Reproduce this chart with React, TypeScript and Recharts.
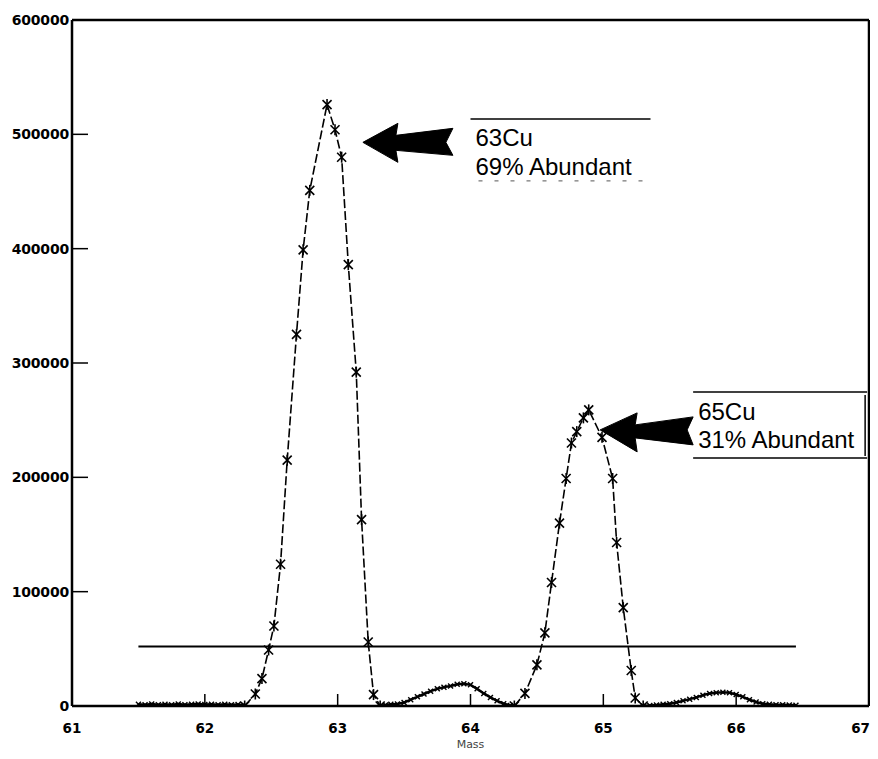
import React from 'react';
import { LineChart, Line, XAxis, YAxis, ReferenceLine, ReferenceDot } from 'recharts';

// ---- data ----
const xTicks = [61, 62, 63, 64, 65, 66, 67];
const yTicks = [0, 100000, 200000, 300000, 400000, 500000, 600000];

const peak63Mass = [62.3, 62.38, 62.43, 62.48, 62.52, 62.57, 62.62, 62.69, 62.74, 62.79, 62.92, 62.98, 63.03, 63.08, 63.14, 63.18, 63.23, 63.27, 63.32];
const peak63Intensity = [0, 10500, 24000, 49000, 70000, 124000, 215000, 325000, 399000, 451000, 526000, 504000, 480000, 386000, 292000, 163000, 56000, 10000, 0];

const peak65Mass = [64.33, 64.41, 64.5, 64.56, 64.61, 64.67, 64.72, 64.76, 64.8, 64.85, 64.89, 64.99, 65.07, 65.1, 65.15, 65.21, 65.24, 65.3];
const peak65Intensity = [0, 11000, 36000, 64000, 108000, 160000, 199000, 230000, 240000, 252000, 259000, 235000, 199000, 143000, 86000, 31000, 7000, 0];

const baseMass = [
  61.5, 61.55, 61.6, 61.65, 61.7, 61.75, 61.8, 61.85, 61.9, 61.95, 62.0, 62.05, 62.1, 62.15, 62.2, 62.25, 62.3,
  62.31,
  63.32, 63.36, 63.4, 63.45, 63.5, 63.55, 63.6, 63.65, 63.7, 63.75, 63.8, 63.85, 63.9, 63.95, 64.0, 64.05, 64.1, 64.15, 64.2, 64.25, 64.3, 64.33,
  64.34,
  65.3, 65.35, 65.4, 65.45, 65.5, 65.55, 65.6, 65.65, 65.7, 65.75, 65.8, 65.85, 65.9, 65.95, 66.0, 66.05, 66.1, 66.15, 66.2, 66.25, 66.3, 66.35, 66.4, 66.45,
];
const baseIntensity: (number | null)[] = [
  1500, 1000, 1800, 1200, 1500, 1000, 1700, 1200, 1500, 1800, 1300, 1600, 1200, 1500, 1000, 1300, 500,
  null,
  0, 800, 1500, 1800, 3000, 5500, 8000, 10500, 13000, 15000, 16500, 17500, 19000, 19500, 18500, 15000, 11000, 7500, 4500, 2000, 500, 0,
  null,
  0, 500, 800, 1500, 2000, 3000, 4500, 6000, 7500, 9500, 11000, 11500, 12000, 11500, 10000, 8000, 5500, 3500, 2000, 1500, 1200, 1000, 800, 600,
];

const thresholdIntensity = 52000;
const thresholdFrom = 61.5;
const thresholdTo = 66.45;

const label63 = ['63Cu', '69% Abundant'];
const label65 = ['65Cu', '31% Abundant'];
// annotation anchors (mass, intensity)
const arrow63Tip = [63.19, 493000];
const box63Anchor = [64.0, 513500];
const arrow65Tip = [64.976, 241500];
const box65Anchor = [65.676, 274700];

const xLabel = 'Mass';

const zip = (m: number[], v: (number | null)[]) => m.map((mass, i) => ({ mass, intensity: v[i] }));
const peak63 = zip(peak63Mass, peak63Intensity);
const peak65 = zip(peak65Mass, peak65Intensity);
const baseline = zip(baseMass, baseIntensity);

const TICK_FONT = 'DejaVu Sans, sans-serif';
const ANN_FONT = 'Liberation Sans, Arial, sans-serif';

const StarDot = (props: any) => {
  const { cx, cy, index } = props;
  if (cx == null || cy == null) return <g key={index} />;
  const s = 4.5;
  return (
    <g key={index} stroke="#000" strokeWidth={1.6}>
      <line x1={cx - s} y1={cy - s} x2={cx + s} y2={cy + s} />
      <line x1={cx - s} y1={cy + s} x2={cx + s} y2={cy - s} />
      <line x1={cx} y1={cy - s - 1} x2={cx} y2={cy + s + 1} />
    </g>
  );
};

const SmallX = (props: any) => {
  const { cx, cy, index, value } = props;
  if (cx == null || cy == null || value == null) return <g key={index} />;
  const s = 2.5;
  return (
    <g key={index} stroke="#000" strokeWidth={1.4}>
      <line x1={cx - s} y1={cy - s} x2={cx + s} y2={cy + s} />
      <line x1={cx - s} y1={cy + s} x2={cx + s} y2={cy - s} />
    </g>
  );
};

const XTick = (props: any) => {
  const { x, y, payload, index } = props;
  const axisY = y - 17;
  const last = index === xTicks.length - 1;
  return (
    <g>
      <line x1={x} y1={axisY} x2={x} y2={axisY - 12} stroke="#000" strokeWidth={1.5} />
      <text
        x={last ? x + 1 : x}
        y={y}
        dy="0.71em"
        textAnchor={last ? 'end' : 'middle'}
        fontSize={13.5}
        fontWeight="bold"
        fontFamily={TICK_FONT}
        fill="#000"
      >
        {payload.value}
      </text>
    </g>
  );
};

const YTick = (props: any) => {
  const { x, y, payload } = props;
  const axisX = x + 3;
  return (
    <g>
      <line x1={axisX} y1={y} x2={axisX + 16} y2={y} stroke="#000" strokeWidth={1.5} />
      <text x={x} y={y} dy="0.36em" textAnchor="end" fontSize={14} fontWeight="bold" fontFamily={TICK_FONT} fill="#000" letterSpacing={-0.2}>
        {payload.value}
      </text>
    </g>
  );
};

const Arrow = (geom: { headBack: number; headTop: number; headBot: number; shaftTopA: number; shaftBotA: number; tail: number; tailTop: number; tailBot: number; notch: number }) => (props: any) => {
  const { cx, cy } = props;
  const g = geom;
  const pts = [
    [0, 0],
    [g.headBack, g.headTop],
    [g.headBack - 2, g.shaftTopA],
    [g.tail, g.tailTop],
    [g.tail - g.notch, 0],
    [g.tail, g.tailBot],
    [g.headBack - 2, g.shaftBotA],
    [g.headBack, g.headBot],
  ]
    .map(([a, b]) => `${cx + a},${cy + b}`)
    .join(' ');
  return <polygon points={pts} fill="#000" stroke="#000" strokeWidth={1} />;
};

const Box63 = (props: any) => {
  const { cx, cy } = props;
  return (
    <g>
      <line x1={cx} y1={cy} x2={cx + 180} y2={cy} stroke="#000" strokeWidth={1.5} />
      <text x={cx + 5} y={cy + 27} fontSize={24} fontFamily={ANN_FONT} fill="#000">{label63[0]}</text>
      <text x={cx + 5} y={cy + 56} fontSize={24} fontFamily={ANN_FONT} fill="#000">{label63[1]}</text>
      <line x1={cx + 8} y1={cy + 62} x2={cx + 172} y2={cy + 62} stroke="#555" strokeWidth={1} strokeDasharray="4 12" />
    </g>
  );
};

const Box65 = (props: any) => {
  const { cx, cy } = props;
  return (
    <g>
      <line x1={cx} y1={cy} x2={cx + 174} y2={cy} stroke="#000" strokeWidth={1.5} />
      <line x1={cx} y1={cy + 66} x2={cx + 174} y2={cy + 66} stroke="#000" strokeWidth={1.5} />
      <line x1={cx + 172} y1={cy + 3} x2={cx + 172} y2={cy + 64} stroke="#000" strokeWidth={1.5} />
      <text x={cx + 5} y={cy + 28} fontSize={24} fontFamily={ANN_FONT} fill="#000">{label65[0]}</text>
      <text x={cx + 5} y={cy + 56} fontSize={24} fontFamily={ANN_FONT} fill="#000">{label65[1]}</text>
    </g>
  );
};

const arrow63 = Arrow({ headBack: 35, headTop: -19, headBot: 20, shaftTopA: -7, shaftBotA: 8, tail: 90, tailTop: -14, tailBot: 13, notch: 7 });
const arrow65 = Arrow({ headBack: 37, headTop: -17, headBot: 22, shaftTopA: -5, shaftBotA: 8, tail: 93, tailTop: -13, tailBot: 15, notch: 6 });

export default function App() {
  return (
    <div style={{ width: 878, height: 751, margin: '-8px 0 0 -8px', background: '#fff' }}>
      <LineChart width={878} height={751} margin={{ top: 20, right: 9, left: 8, bottom: 0 }}>
        <XAxis
          dataKey="mass"
          type="number"
          domain={[61, 67]}
          ticks={xTicks}
          allowDataOverflow
          height={45}
          tickSize={0}
          tickMargin={17}
          tick={<XTick />}
          axisLine={{ stroke: '#000', strokeWidth: 2.5 }}
          label={{ value: xLabel, position: 'insideBottom', offset: 3, fontSize: 11, fill: '#444', fontFamily: TICK_FONT }}
        />
        <YAxis
          type="number"
          domain={[0, 600000]}
          ticks={yTicks}
          allowDataOverflow
          width={64}
          tickSize={0}
          tickMargin={3}
          tick={<YTick />}
          axisLine={{ stroke: '#000', strokeWidth: 2.5 }}
        />
        <ReferenceLine y={600000} stroke="#000" strokeWidth={2.5} />
        <ReferenceLine x={67} stroke="#000" strokeWidth={2.5} />
        <ReferenceLine
          segment={[{ x: thresholdFrom, y: thresholdIntensity }, { x: thresholdTo, y: thresholdIntensity }]}
          stroke="#000"
          strokeWidth={2}
        />
        <Line
          data={baseline}
          dataKey="intensity"
          type="linear"
          stroke="#000"
          strokeWidth={2.5}
          dot={<SmallX />}
          connectNulls={false}
          isAnimationActive={false}
        />
        <Line
          data={peak63}
          dataKey="intensity"
          type="linear"
          stroke="#000"
          strokeWidth={1.6}
          strokeDasharray="9 3"
          dot={<StarDot />}
          isAnimationActive={false}
        />
        <Line
          data={peak65}
          dataKey="intensity"
          type="linear"
          stroke="#000"
          strokeWidth={1.6}
          strokeDasharray="9 3"
          dot={<StarDot />}
          isAnimationActive={false}
        />
        <ReferenceDot x={arrow63Tip[0]} y={arrow63Tip[1]} shape={arrow63} />
        <ReferenceDot x={box63Anchor[0]} y={box63Anchor[1]} shape={Box63} />
        <ReferenceDot x={arrow65Tip[0]} y={arrow65Tip[1]} shape={arrow65} />
        <ReferenceDot x={box65Anchor[0]} y={box65Anchor[1]} shape={Box65} />
      </LineChart>
    </div>
  );
}
